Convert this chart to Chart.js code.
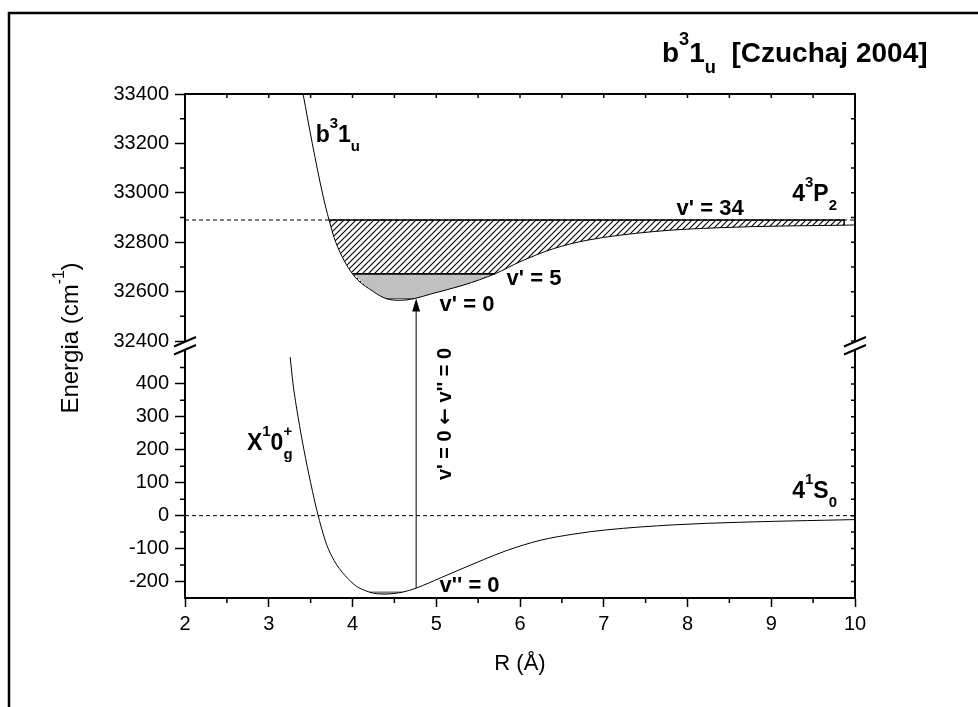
<!DOCTYPE html>
<html>
<head>
<meta charset="utf-8">
<script src="https://cdn.jsdelivr.net/npm/chart.js@4.4.0/dist/chart.umd.min.js"></script>
<style>
    html, body { margin: 0; padding: 0; background: #fff; }
</style>
</head>
<body>
<canvas id="grafico-energia" width="978" height="707"></canvas>
<script>
const FONTE = "'Liberation Sans', Arial, sans-serif";

/* EIXOS */
const ticksR = [2, 3, 4, 5, 6, 7, 8, 9, 10];
const ticksRMenor = [2.5, 3.5, 4.5, 5.5, 6.5, 7.5, 8.5, 9.5];
const ticksTopo = [32400, 32600, 32800, 33000, 33200, 33400];
const ticksTopoMenor = [32500, 32700, 32900, 33100, 33300];
const ticksBase = [-200, -100, 0, 100, 200, 300, 400];
const ticksBaseMenor = [-150, -50, 50, 150, 250, 350, 450];

/* CURVA b3 1u (estado excitado) */
const rB = [3.41, 3.52, 3.64, 3.72, 3.80, 4.00, 4.25, 4.40, 4.56, 4.74, 4.93, 5.33, 5.70, 6.00, 6.40, 6.80, 7.59, 8.39, 9.19, 9.87, 10.0];
const eB = [33400, 33200, 33000, 32890, 32800, 32672, 32600, 32572, 32565, 32572, 32590, 32627, 32672, 32721, 32774, 32808, 32843, 32859, 32866, 32869, 32870];

/* CURVA X1 0g+ (estado fundamental) */
const rX = [3.256, 3.29, 3.35, 3.42, 3.50, 3.59, 3.71, 3.98, 4.20, 4.39, 4.60, 4.76, 5.05, 5.56, 5.84, 6.24, 6.64, 7.04, 7.83, 8.63, 9.43, 10.0];
const eX = [481, 400, 300, 200, 100, 0, -100, -200, -232, -238, -232, -220, -189, -134, -106, -75, -56, -43, -28, -20, -15, -12];

/* ASSINTOTAS E NIVEIS VIBRACIONAIS: [r inicial, r final, energia] */
const assintota4P2 = [2, 10, 32890];
const assintota4S0 = [2, 10, 0];
const nivelV34 = [3.72, 9.87, 32890];
const nivelV5 = [4.00, 5.70, 32672];
const nivelV0 = [4.40, 4.74, 32572];
const nivelV0x = [4.20, 4.60, -232];

/* TRANSICAO v' = 0 <- v'' = 0: [r, energia inicial, energia final] */
const transicao = [4.76, -220, 32572];

function pontos(rs, es, ini, fim) {
    return rs.map((r, i) => ({ x: r, y: es[i] }))
        .filter(p => p.x >= ini - 1e-9 && p.x <= fim + 1e-9);
}

function segmento(n) {
    return [{ x: n[0], y: n[2] }, { x: n[1], y: n[2] }];
}

function hachura() {
    const c = document.createElement('canvas');
    c.width = 6; c.height = 6;
    const g = c.getContext('2d');
    g.strokeStyle = '#000';
    g.lineWidth = 1.1;
    g.beginPath();
    g.moveTo(0, 6); g.lineTo(6, 0);
    g.moveTo(-1, 1); g.lineTo(1, -1);
    g.moveTo(5, 7); g.lineTo(7, 5);
    g.stroke();
    return g.createPattern(c, 'repeat');
}

/* texto com sobrescrito (^) e subscrito (_); '<' empilha sobre o anterior */
function escreve(ctx, x, y, partes, tam, peso, medir) {
    let cx = x, ultimo = x;
    ctx.textAlign = 'left';
    ctx.textBaseline = 'alphabetic';
    ctx.fillStyle = '#000';
    partes.forEach(([t, tipo = '', fam = FONTE]) => {
        const s = tipo ? tam * 0.65 : tam;
        ctx.font = `${peso} ${s}px ${fam}`;
        let dy = 0;
        if (tipo.startsWith('^')) dy = -tam * 0.6;
        if (tipo.startsWith('_')) dy = tam * 0.4;
        const x0 = tipo.endsWith('<') ? ultimo : cx;
        if (!medir) ctx.fillText(t, x0, y + dy);
        ultimo = x0;
        cx = Math.max(cx, x0 + ctx.measureText(t).width);
    });
    return cx - x;
}

const rotulos = [
    { eixo: 'yTopo', r: 3.56, e: 33205, tam: 23, partes: [['b'], ['3', '^'], ['1'], ['u', '_']] },
    { eixo: 'yTopo', r: 7.87, e: 32911, tam: 22, partes: [["v' = 34"]] },
    { eixo: 'yTopo', r: 9.25, e: 32968, tam: 23, partes: [['4'], ['3', '^'], ['P'], ['2', '_']] },
    { eixo: 'yTopo', r: 5.84, e: 32628, tam: 22, partes: [["v' = 5"]] },
    { eixo: 'yTopo', r: 5.04, e: 32520, tam: 22, partes: [["v' = 0"]] },
    { eixo: 'yBase', r: 2.74, e: 199, tam: 23, partes: [['X'], ['1', '^'], ['0'], ['g', '_'], ['+', '^<']] },
    { eixo: 'yBase', r: 9.25, e: 53, tam: 23, partes: [['4'], ['1', '^'], ['S'], ['0', '_']] },
    { eixo: 'yBase', r: 5.04, e: -233, tam: 22, partes: [["v'' = 0"]] }
];

function linhaTick(ctx, x1, y1, x2, y2) {
    ctx.moveTo(x1, y1);
    ctx.lineTo(x2, y2);
}

const moldura = {
    id: 'moldura',
    afterDraw(chart) {
        const ctx = chart.ctx;
        const a = chart.chartArea;
        const sx = chart.scales.x, sT = chart.scales.yTopo, sB = chart.scales.yBase;
        ctx.save();

        // borda externa
        ctx.strokeStyle = '#000';
        ctx.lineWidth = 2.5;
        ctx.beginPath();
        ctx.moveTo(9, 707); ctx.lineTo(9, 13); ctx.lineTo(978, 13);
        ctx.stroke();

        // eixo superior e direito
        ctx.lineWidth = 2;
        ctx.beginPath();
        ctx.moveTo(a.left, a.top); ctx.lineTo(a.right, a.top); ctx.lineTo(a.right, a.bottom);
        ctx.stroke();

        // ticks menores (fora) e ticks internos do topo e da direita
        ctx.lineWidth = 1.5;
        ctx.beginPath();
        ticksRMenor.forEach(v => { const p = sx.getPixelForValue(v); linhaTick(ctx, p, a.bottom, p, a.bottom + 5); });
        ticksTopoMenor.forEach(v => { const p = sT.getPixelForValue(v); linhaTick(ctx, a.left, p, a.left - 5, p); });
        ticksBaseMenor.forEach(v => { const p = sB.getPixelForValue(v); linhaTick(ctx, a.left, p, a.left - 5, p); });
        ticksR.concat(ticksRMenor).forEach(v => { const p = sx.getPixelForValue(v); linhaTick(ctx, p, a.top, p, a.top + 4); });
        ticksTopo.concat(ticksTopoMenor).forEach(v => { const p = sT.getPixelForValue(v); linhaTick(ctx, a.right, p, a.right - 4, p); });
        ticksBase.concat(ticksBaseMenor).forEach(v => { const p = sB.getPixelForValue(v); linhaTick(ctx, a.right, p, a.right - 4, p); });
        ctx.stroke();

        // quebra do eixo y
        const yq = sT.bottom;
        [a.left, a.right].forEach(x0 => {
            ctx.fillStyle = '#fff';
            ctx.beginPath();
            ctx.moveTo(x0 - 11, yq + 0.5); ctx.lineTo(x0 + 11, yq - 9);
            ctx.lineTo(x0 + 11, yq - 1); ctx.lineTo(x0 - 11, yq + 8.5);
            ctx.closePath();
            ctx.fill();
            ctx.lineWidth = 2;
            ctx.beginPath();
            ctx.moveTo(x0 - 11, yq + 0.5); ctx.lineTo(x0 + 11, yq - 9);
            ctx.moveTo(x0 - 11, yq + 8.5); ctx.lineTo(x0 + 11, yq - 1);
            ctx.stroke();
        });

        // seta da transicao
        const xs = sx.getPixelForValue(transicao[0]);
        const y0 = sB.getPixelForValue(transicao[1]);
        const y1 = sT.getPixelForValue(transicao[2]);
        ctx.lineWidth = 1;
        ctx.beginPath();
        ctx.moveTo(xs, y0); ctx.lineTo(xs, y1 + 10);
        ctx.stroke();
        ctx.fillStyle = '#000';
        ctx.beginPath();
        ctx.moveTo(xs, y1); ctx.lineTo(xs - 4, y1 + 13); ctx.lineTo(xs + 4, y1 + 13);
        ctx.closePath();
        ctx.fill();

        // rotulos das curvas
        rotulos.forEach(l => {
            const px = sx.getPixelForValue(l.r);
            const py = chart.scales[l.eixo].getPixelForValue(l.e);
            escreve(ctx, px, py, l.partes, l.tam, 'bold');
        });

        ctx.save();
        ctx.translate(451, sB.getPixelForValue(108));
        ctx.rotate(-Math.PI / 2);
        escreve(ctx, 0, 0, [["v' = 0 "], ['\u2190', '', "'DejaVu Sans', sans-serif"], [" v'' = 0"]], 20, 'bold');
        ctx.restore();

        // titulo
        escreve(ctx, 662, 62, [['b'], ['3', '^'], ['1'], ['u', '_'], ['  [Czuchaj 2004]']], 28, 'bold');

        // titulos dos eixos
        const tituloY = [['Energia (cm'], ['-1', '^'], [')']];
        const wy = escreve(ctx, 0, 0, tituloY, 24, 'normal', true);
        ctx.save();
        ctx.translate(78, 338 + wy / 2);
        ctx.rotate(-Math.PI / 2);
        escreve(ctx, 0, 0, tituloY, 24, 'normal');
        ctx.restore();

        const tituloX = [['R (\u00C5)']];
        const wx = escreve(ctx, 0, 0, tituloX, 22, 'normal', true);
        escreve(ctx, (a.left + a.right) / 2 - wx / 2, 670, tituloX, 22, 'normal');

        ctx.restore();
    }
};

function eixoY(min, max, ticks) {
    return {
        type: 'linear',
        position: 'left',
        stack: 'energia',
        stackWeight: 1,
        min: min,
        max: max,
        afterBuildTicks: s => { s.ticks = ticks.map(v => ({ value: v })); },
        afterFit: s => { s.width = 185; },
        ticks: { font: { family: FONTE, size: 20 }, color: '#000', padding: 6, autoSkip: false, callback: v => String(v) },
        grid: { drawOnChartArea: false, drawTicks: true, tickLength: 10, tickWidth: 1.5, tickColor: '#000' },
        border: { display: true, color: '#000', width: 2 }
    };
}

function curva(dados, eixo, extra) {
    return Object.assign({
        data: dados,
        yAxisID: eixo,
        showLine: true,
        borderColor: '#000',
        borderWidth: 1,
        pointRadius: 0,
        cubicInterpolationMode: 'monotone',
        fill: false,
        order: 0
    }, extra);
}

new Chart(document.getElementById('grafico-energia'), {
    type: 'scatter',
    data: {
        datasets: [
            curva(pontos(rB, eB, 0, 99), 'yTopo'),
            curva(pontos(rX, eX, 0, 99), 'yBase'),
            curva(segmento(nivelV34).concat([{ x: nivelV34[1], y: eB[eB.length - 2] }]), 'yTopo', { borderWidth: 1.5, cubicInterpolationMode: 'default', order: 1 }),
            curva(segmento(nivelV5), 'yTopo', { borderWidth: 1.8, order: 1 }),
            curva(segmento(nivelV0), 'yTopo', { borderColor: '#555', order: 1 }),
            curva(segmento(nivelV0x), 'yBase', { borderColor: '#555', order: 1 }),
            curva(segmento(assintota4P2), 'yTopo', { borderDash: [4, 3], order: 2 }),
            curva(segmento(assintota4S0), 'yBase', { borderDash: [4, 3], order: 2 }),
            curva(pontos(rB, eB, nivelV0[0], nivelV0[1]), 'yTopo', { borderWidth: 0, borderColor: 'transparent', fill: { value: nivelV0[2] }, backgroundColor: '#f4f4f4', order: 3 }),
            curva(pontos(rX, eX, nivelV0x[0], nivelV0x[1]), 'yBase', { borderWidth: 0, borderColor: 'transparent', fill: { value: nivelV0x[2] }, backgroundColor: '#c0c0c0', order: 3 }),
            curva(pontos(rB, eB, nivelV5[0], nivelV5[1]), 'yTopo', { borderWidth: 0, borderColor: 'transparent', fill: { value: nivelV5[2] }, backgroundColor: '#c0c0c0', order: 4 }),
            curva(pontos(rB, eB, nivelV34[0], nivelV34[1]), 'yTopo', { borderWidth: 0, borderColor: 'transparent', fill: { value: nivelV34[2] }, backgroundColor: hachura(), order: 5 })
        ]
    },
    options: {
        responsive: false,
        animation: false,
        events: [],
        layout: { padding: { top: 94, right: 123, bottom: 0, left: 0 } },
        plugins: { legend: { display: false }, tooltip: { enabled: false } },
        scales: {
            x: {
                type: 'linear',
                position: 'bottom',
                min: 2,
                max: 10,
                afterBuildTicks: s => { s.ticks = ticksR.map(v => ({ value: v })); },
                afterFit: s => { s.height = 109; },
                ticks: { font: { family: FONTE, size: 20 }, color: '#000', padding: 5, autoSkip: false },
                grid: { drawOnChartArea: false, drawTicks: true, tickLength: 9, tickWidth: 1.5, tickColor: '#000' },
                border: { display: true, color: '#000', width: 2 }
            },
            // o eixo declarado por ultimo fica em cima na pilha
            yBase: eixoY(-250, 515, ticksBase),
            yTopo: eixoY(32380, 33400, ticksTopo)
        }
    },
    plugins: [moldura]
});
</script>
</body>
</html>
